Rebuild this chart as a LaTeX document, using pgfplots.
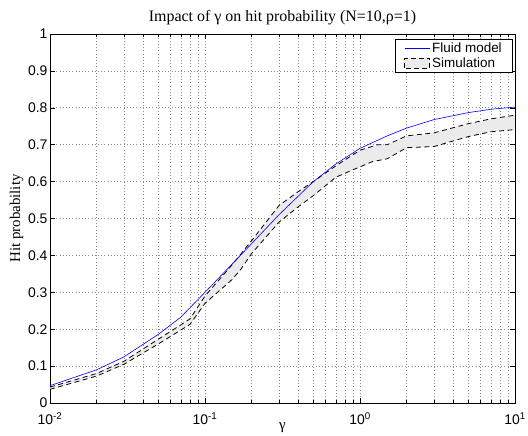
\documentclass[border=0pt]{standalone}
\usepackage{fontspec}
\setmainfont{Liberation Serif}
\newfontfamily\sansf{Liberation Sans}
\usepackage{pgfplots}
\pgfplotsset{compat=1.18}
\begin{document}
\begin{tikzpicture}
\useasboundingbox (-50bp,-33bp) rectangle (478bp,403bp);
\begin{axis}[
  at={(0,0)}, anchor=south west,
  scale only axis, width=465bp, height=369bp,
  xmode=log, xmin=0.01, xmax=10, ymin=0, ymax=1,
  xtick={0.01,0.1,1,10},
  xticklabels={10\textsuperscript{-2},10\textsuperscript{-1},10\textsuperscript{0},10\textsuperscript{1}},
  ytick={0,0.1,0.2,0.3,0.4,0.5,0.6,0.7,0.8,0.9,1},
  yticklabels={0,0.1,0.2,0.3,0.4,0.5,0.6,0.7,0.8,0.9,1},
  ticklabel style={font=\sansf\fontsize{14}{16}\selectfont},
  yticklabel style={xshift=1bp},
  xticklabel style={yshift=-6bp},
  tick align=inside, major tick length=5bp, minor tick length=3bp,
  tick style={black, line width=0.5bp},
  axis line style={line width=0.9bp},
  grid=both, xminorgrids=true, yminorgrids=false,
  major grid style={black!45, dash pattern=on 0.6bp off 2.6bp, line width=0.6bp},
  minor grid style={black!45, dash pattern=on 0.6bp off 2.6bp, line width=0.6bp},
  title={Impact of γ on hit probability (N=10,ρ=1)},
  title style={font=\fontsize{16}{18}\selectfont, yshift=0bp},
  xlabel={γ}, ylabel={Hit probability},
  label style={font=\fontsize{15}{17}\selectfont},
  xlabel style={yshift=9bp},
  ylabel style={yshift=-2bp},
  legend style={at={(0.996,0.987)}, anchor=north east, draw=black, line width=0.8bp,
    font=\sansf\fontsize{13.5}{15}\selectfont, inner xsep=9bp, inner ysep=2bp, row sep=-1bp},
  legend cell align=left,
]
\addlegendimage{legend image code/.code={\draw[blue, solid, line width=0.7bp] (0bp,0bp) -- (25bp,0bp);}}
\addlegendentry{Fluid model\hspace{8bp}}
\addlegendimage{legend image code/.code={\draw[fill=black!8, draw=black, dash pattern=on 5bp off 3bp, line width=0.8bp] (0bp,-5bp) rectangle (25bp,5bp);}}
\addlegendentry{Simulation\hspace{8bp}}

\addplot[fill=black!8, draw=none, forget plot] coordinates {
(0.01,0.043) (0.02,0.080) (0.03,0.113) (0.05,0.173) (0.07,0.212) (0.08,0.228) (0.1,0.29) (0.13,0.345) (0.15,0.375) (0.2,0.44) (0.3,0.535) (0.4,0.573) (0.5,0.60) (0.7,0.643) (1,0.685) (1.3,0.700) (1.5,0.700) (2,0.724) (3,0.732) (5,0.757) (7,0.77) (10,0.78)
(10,0.741) (7,0.735) (5,0.722) (3,0.695) (2,0.692) (1.5,0.662) (1.2,0.654) (0.9,0.632) (0.7,0.612) (0.5,0.562) (0.4,0.532) (0.3,0.49) (0.2,0.405) (0.17,0.362) (0.15,0.335) (0.1,0.27) (0.08,0.213) (0.07,0.198) (0.05,0.16) (0.03,0.105) (0.02,0.073) (0.01,0.037)};

\addplot[black, dash pattern=on 5bp off 3.5bp, line width=0.8bp, forget plot] coordinates {
(0.01,0.043) (0.02,0.080) (0.03,0.113) (0.05,0.173) (0.07,0.212) (0.08,0.228) (0.1,0.29) (0.13,0.345) (0.15,0.375) (0.2,0.44) (0.3,0.535) (0.4,0.573) (0.5,0.60) (0.7,0.643) (1,0.685) (1.3,0.700) (1.5,0.700) (2,0.724) (3,0.732) (5,0.757) (7,0.77) (10,0.78)};
\addplot[black, dash pattern=on 5bp off 3.5bp, line width=0.8bp, forget plot] coordinates {
(0.01,0.037) (0.02,0.073) (0.03,0.105) (0.05,0.16) (0.07,0.198) (0.08,0.213) (0.1,0.27) (0.15,0.335) (0.17,0.362) (0.2,0.405) (0.3,0.49) (0.4,0.532) (0.5,0.562) (0.7,0.612) (0.9,0.632) (1.2,0.654) (1.5,0.662) (2,0.692) (3,0.695) (5,0.722) (7,0.735) (10,0.741)};

\addplot[blue, line width=0.6bp, forget plot] coordinates {
(0.01,0.047) (0.02,0.09) (0.03,0.125) (0.05,0.186) (0.07,0.233) (0.1,0.30) (0.15,0.377) (0.2,0.432) (0.3,0.51) (0.5,0.60) (0.7,0.648) (1,0.69) (1.5,0.724) (2,0.745) (3,0.768) (5,0.787) (7,0.796) (10,0.802)};
\end{axis}
\end{tikzpicture}
\end{document}
